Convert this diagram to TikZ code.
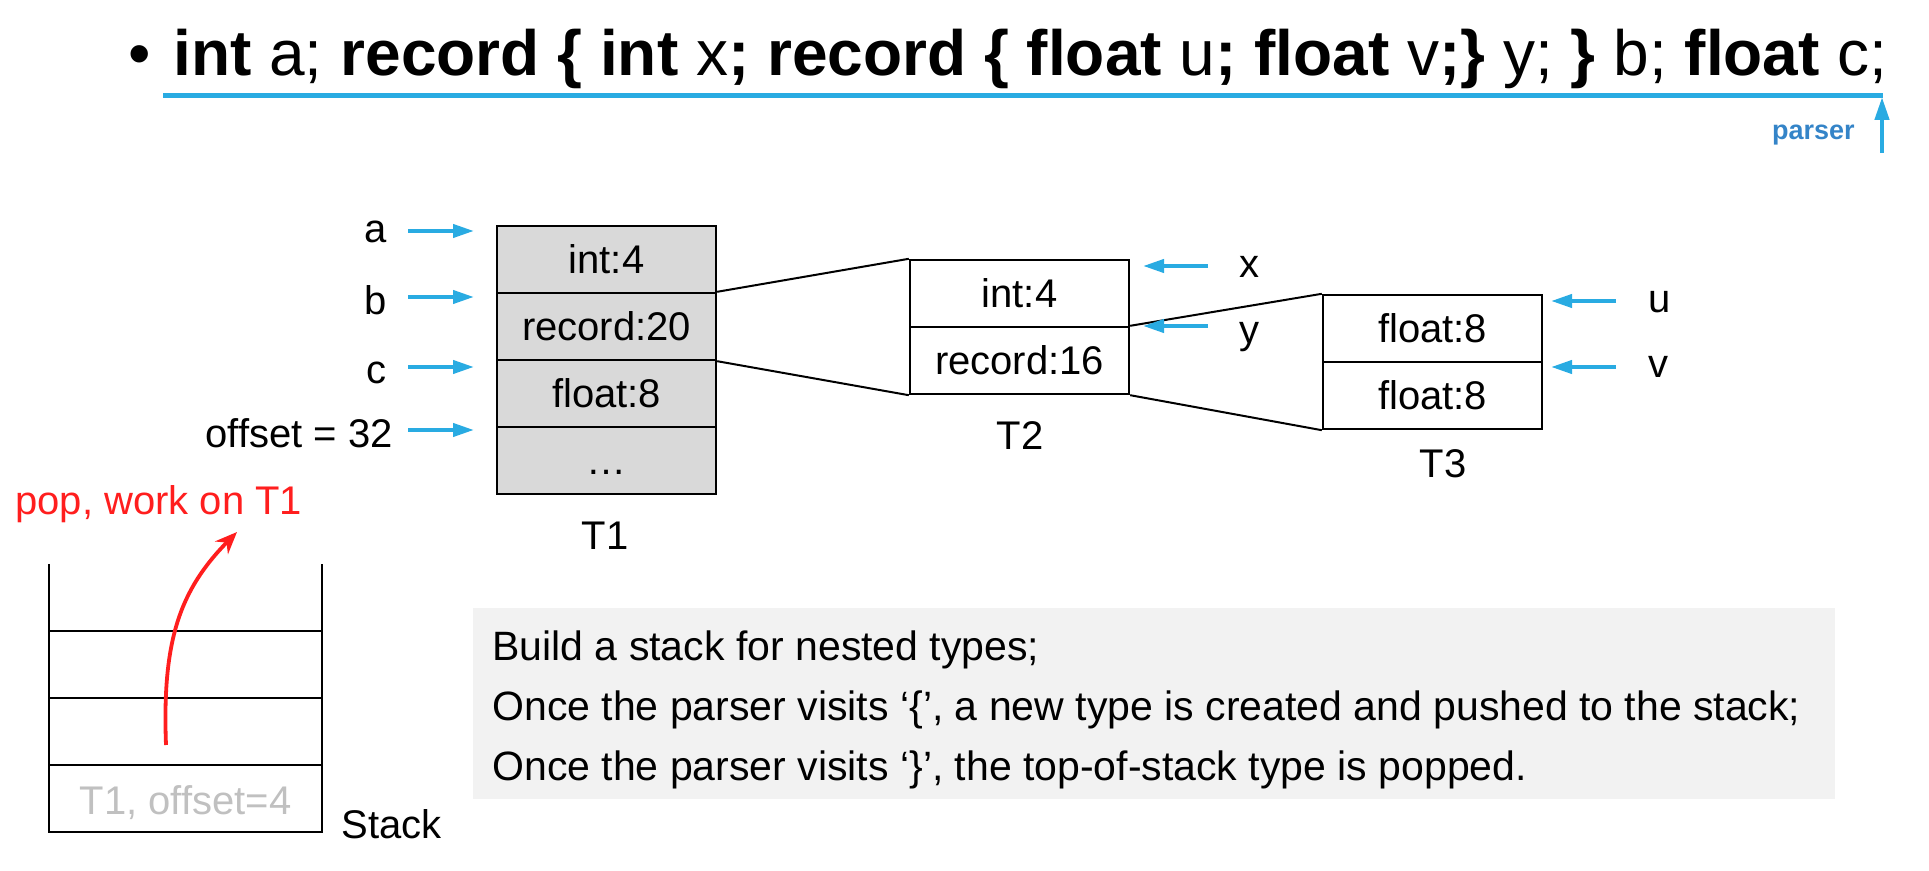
\documentclass[tikz,border=0pt]{standalone}
\usepackage{fontspec}
\setmainfont{Liberation Sans}
\usetikzlibrary{arrows.meta}
\definecolor{arrblue}{RGB}{41,171,226}
\definecolor{parblue}{RGB}{52,132,200}
\definecolor{tonegray}{RGB}{217,217,217}
\definecolor{notegray}{RGB}{242,242,242}
\definecolor{popred}{RGB}{255,30,30}
\definecolor{stkgray}{RGB}{192,192,192}
\begin{document}
\begin{tikzpicture}[x=0.5pt,y=-0.5pt,
  cell/.style={draw, line width=1.2pt, minimum width=109.5pt, minimum height=33.5pt,
    inner sep=0pt, text height=14.3pt, text depth=0pt, font=\fontsize{20}{24}\selectfont},
  lbl/.style={inner sep=0pt, font=\fontsize{20}{24}\selectfont},
  notetext/.style={inner sep=0pt, anchor=base west, font=\fontsize{20.5}{24}\selectfont},
  barrow/.style={draw=arrblue, line width=2pt, -{Triangle[length=10.5pt,width=6.5pt]}},
  link/.style={line width=1pt},
  stackline/.style={line width=1pt},
]
\useasboundingbox (0,0) rectangle (1929,871);

% title
\node[anchor=base west, inner sep=0pt, font=\fontsize{32}{38}\selectfont] (bul) at (128,76) {•};
\node[anchor=base west, inner sep=0pt, font=\fontsize{32}{38}\selectfont] (title) at (173,76)
  {\textbf{int} a; \textbf{record \{ int} x\textbf{;} \textbf{record \{ float} u\textbf{;} \textbf{float} v\textbf{;\}} y; \textbf{\}} b; \textbf{float} c;};
\coordinate (ul1) at (163,95.5);
\coordinate (ul2) at (1883,95.5);
\draw[arrblue, line width=2.4pt] (ul1) -- (ul2);
\coordinate (pa) at (1882,153);
\coordinate (pb) at (1882,97);
\draw[arrblue, line width=2.2pt, -{Triangle[length=11.5pt,width=7pt]}] (pa) -- (pb);
\node[anchor=base east, inner sep=0pt, text=parblue, font=\bfseries\fontsize{13.5}{16}\selectfont] (parser) at (1855,140) {parser};

% T1
\node[cell, fill=tonegray] (t1a) at (606.5,259.5) {int:4};
\node[cell, fill=tonegray] (t1b) at (606.5,326.5) {record:20};
\node[cell, fill=tonegray] (t1c) at (606.5,393.5) {float:8};
\node[cell, fill=tonegray] (t1d) at (606.5,460.5) {…};
\node[lbl, anchor=base] (lt1) at (605,550) {T1};

% T2
\node[cell] (t2a) at (1019.5,293.5) {int:4};
\node[cell] (t2b) at (1019.5,360.5) {record:16};
\node[lbl, anchor=base] (lt2) at (1020,450) {T2};

% T3
\node[cell] (t3a) at (1432.5,328.5) {float:8};
\node[cell] (t3b) at (1432.5,395.5) {float:8};
\node[lbl, anchor=base] (lt3) at (1443,478) {T3};

% links
\draw[link] (t1b.north east) -- (t2a.north west);
\draw[link] (t1b.south east) -- (t2b.south west);
\draw[link] (t2b.north east) -- (t3a.north west);
\draw[link] (t2b.south east) -- (t3b.south west);

% left labels and arrows
\node[lbl, anchor=base east] (la) at (387,243) {a};
\node[lbl, anchor=base east] (lb) at (387,315) {b};
\node[lbl, anchor=base east] (lc) at (387,384) {c};
\node[lbl, anchor=base east] (loff) at (393,448) {offset = 32};
\coordinate (a1) at (408,231); \coordinate (a2) at (474,231);
\coordinate (b1) at (408,297); \coordinate (b2) at (474,297);
\coordinate (c1) at (408,367); \coordinate (c2) at (474,367);
\coordinate (o1) at (408,430); \coordinate (o2) at (474,430);
\draw[barrow] (a1) -- (a2);
\draw[barrow] (b1) -- (b2);
\draw[barrow] (c1) -- (c2);
\draw[barrow] (o1) -- (o2);

% right labels and arrows
\node[lbl, anchor=base west] (lx) at (1239,278) {x};
\node[lbl, anchor=base west] (ly) at (1239,344) {y};
\node[lbl, anchor=base west] (lu) at (1648,313) {u};
\node[lbl, anchor=base west] (lv) at (1648,378) {v};
\coordinate (x1) at (1208,266); \coordinate (x2) at (1143,266);
\coordinate (y1) at (1208,326); \coordinate (y2) at (1143,326);
\coordinate (u1) at (1616,301); \coordinate (u2) at (1551,301);
\coordinate (v1) at (1616,367); \coordinate (v2) at (1551,367);
\draw[barrow] (x1) -- (x2);
\draw[barrow] (y1) -- (y2);
\draw[barrow] (u1) -- (u2);
\draw[barrow] (v1) -- (v2);

% stack
\draw[stackline] (48.5,564) -- (48.5,832) -- (322,832) -- (322,564);
\draw[stackline] (48.5,631) -- (322,631);
\draw[stackline] (48.5,698) -- (322,698);
\draw[stackline] (48.5,765) -- (322,765);
\node[lbl, text=stkgray, anchor=base] (stk1) at (185.5,814) {T1, offset=4};
\node[lbl, anchor=base west] (stack) at (341,838) {Stack};
\node[lbl, text=popred, anchor=base west] (pop) at (15,515) {pop, work on T1};
\coordinate (r1) at (166,745);
\coordinate (r2) at (237,532);
\draw[popred, line width=1.9pt, -{Stealth[length=11pt,width=9pt]}] (r1) .. controls (162,640) and (180,590) .. (r2);

% note box
\node[fill=notegray, minimum width=681pt, minimum height=95.5pt, inner sep=0pt, anchor=north west] (note) at (472.7,608) {};
\node[notetext] (n1) at (492,661) {Build a stack for nested types;};
\node[notetext] (n2) at (492,720.5) {Once the parser visits ‘\{’, a new type is created and pushed to the stack;};
\node[notetext] (n3) at (492,780) {Once the parser visits ‘\}’, the top-of-stack type is popped.};
\end{tikzpicture}
\end{document}
